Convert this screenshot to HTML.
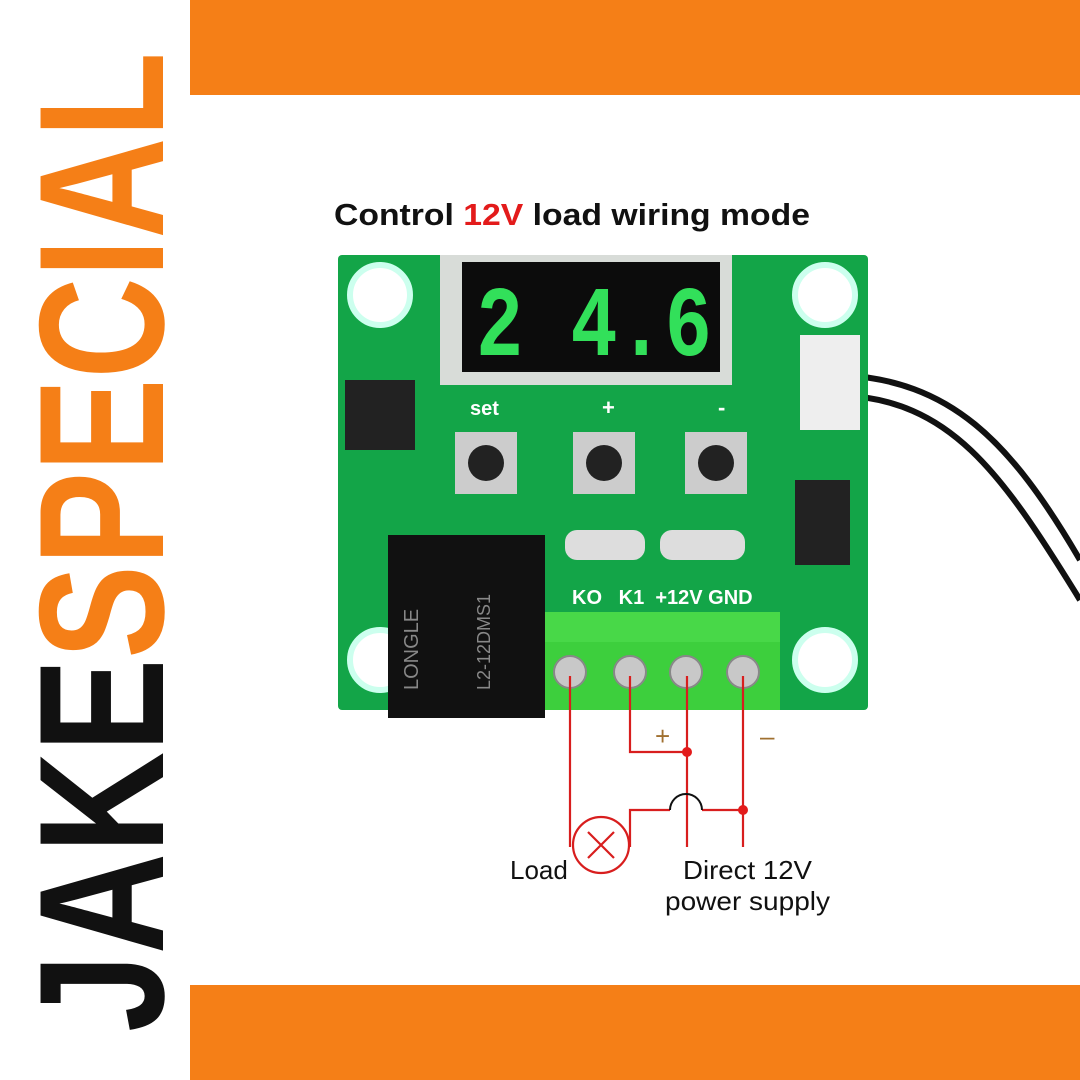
<!DOCTYPE html>
<html><head><meta charset="utf-8"><style>
html,body{margin:0;padding:0;width:1080px;height:1080px;background:#fff;overflow:hidden}
</style></head><body>
<svg width="1080" height="1080" viewBox="0 0 1080 1080" xmlns="http://www.w3.org/2000/svg" style="position:absolute;left:0;top:0">
<rect x="190" y="0" width="890" height="95" fill="#f57f17"/>
<rect x="190" y="985" width="890" height="95" fill="#f57f17"/>
<g transform="translate(163,1032) rotate(-90)">
<text x="0" y="0" font-family="Liberation Sans, sans-serif" font-weight="bold" font-size="178" textLength="980" lengthAdjust="spacingAndGlyphs"><tspan fill="#111">JAKE</tspan><tspan fill="#f57f17">SPECIAL</tspan></text>
</g>
<text x="334" y="225" font-family="Liberation Sans, sans-serif" font-weight="bold" font-size="31" fill="#111" textLength="476" lengthAdjust="spacingAndGlyphs">Control <tspan fill="#e31b1b">12V</tspan> load wiring mode</text>
<!-- cable -->
<path d="M840 375 C 950 380, 1010 440, 1080 560" stroke="#111" stroke-width="6" fill="none"/>
<path d="M840 395 C 950 400, 1000 470, 1080 600" stroke="#111" stroke-width="6" fill="none"/>
<!-- board -->
<rect x="338" y="255" width="530" height="455" rx="4" fill="#13a548"/>
<circle cx="380" cy="295" r="30" fill="#fff" stroke="#cfe" stroke-width="6"/>
<circle cx="825" cy="295" r="30" fill="#fff" stroke="#cfe" stroke-width="6"/>
<circle cx="380" cy="660" r="30" fill="#fff" stroke="#cfe" stroke-width="6"/>
<circle cx="825" cy="660" r="30" fill="#fff" stroke="#cfe" stroke-width="6"/>
<rect x="440" y="255" width="292" height="130" fill="#d8dcd8"/>
<rect x="462" y="262" width="258" height="110" fill="#0c0c0c"/>
<text x="476" y="355" font-family="Liberation Mono, monospace" font-weight="bold" font-size="100" fill="#32e05a" textLength="236" lengthAdjust="spacingAndGlyphs">2 4.6</text>
<rect x="345" y="380" width="70" height="70" fill="#222"/>
<text x="470" y="415" font-family="Liberation Sans, sans-serif" font-weight="bold" font-size="20" fill="#fff">set</text>
<text x="602" y="415" font-family="Liberation Sans, sans-serif" font-weight="bold" font-size="22" fill="#fff">+</text>
<text x="718" y="415" font-family="Liberation Sans, sans-serif" font-weight="bold" font-size="22" fill="#fff">-</text>
<rect x="455" y="432" width="62" height="62" fill="#ccc"/><circle cx="486" cy="463" r="18" fill="#222"/>
<rect x="573" y="432" width="62" height="62" fill="#ccc"/><circle cx="604" cy="463" r="18" fill="#222"/>
<rect x="685" y="432" width="62" height="62" fill="#ccc"/><circle cx="716" cy="463" r="18" fill="#222"/>
<rect x="800" y="335" width="60" height="95" fill="#eee"/>
<rect x="795" y="480" width="55" height="85" fill="#222"/>
<rect x="565" y="530" width="80" height="30" rx="12" fill="#ddd"/><rect x="660" y="530" width="85" height="30" rx="12" fill="#ddd"/>
<text x="572" y="604" font-family="Liberation Sans, sans-serif" font-weight="bold" font-size="20" fill="#fff">KO&#160;&#160;&#160;K1&#160;&#160;+12V GND</text>
<rect x="388" y="535" width="157" height="183" fill="#111"/>
<text transform="translate(418,690) rotate(-90)" font-family="Liberation Sans, sans-serif" font-size="20" fill="#888">LONGLE</text>
<text transform="translate(490,690) rotate(-90)" font-family="Liberation Sans, sans-serif" font-size="18" fill="#888">L2-12DMS1</text>
<rect x="545" y="612" width="235" height="98" fill="#3dcf3d"/>
<rect x="545" y="612" width="235" height="30" fill="#48d848"/>
<g fill="#c8c8c8" stroke="#888" stroke-width="2">
<circle cx="570" cy="672" r="16"/><circle cx="630" cy="672" r="16"/><circle cx="686" cy="672" r="16"/><circle cx="743" cy="672" r="16"/>
</g>
<!-- wiring -->
<g stroke="#d81e1e" stroke-width="2.2" fill="none">
<path d="M570 676 V847"/>
<path d="M630 676 V752 H687"/>
<path d="M687 676 V847"/>
<path d="M743 676 V847"/>
<path d="M630 847 V810 H670"/>
<path d="M702 810 H743"/>
<circle cx="601" cy="845" r="28"/>
<path d="M588 832 L614 858 M614 832 L588 858"/>
</g>
<path d="M670 810 A16 16 0 0 1 702 810" stroke="#111" stroke-width="2" fill="none"/>
<circle cx="687" cy="752" r="5" fill="#e31b1b"/>
<circle cx="743" cy="810" r="5" fill="#e31b1b"/>
<text x="655" y="745" font-family="Liberation Sans, sans-serif" font-size="26" fill="#a07030">+</text>
<text x="760" y="745" font-family="Liberation Sans, sans-serif" font-size="26" fill="#a07030">–</text>
<g font-family="Liberation Sans, sans-serif" font-size="26" fill="#111">
<text x="510" y="879">Load</text>
<text x="683" y="879" textLength="129" lengthAdjust="spacingAndGlyphs">Direct 12V</text>
<text x="665" y="910" textLength="165" lengthAdjust="spacingAndGlyphs">power supply</text>
</g>
</svg>
</body></html>
